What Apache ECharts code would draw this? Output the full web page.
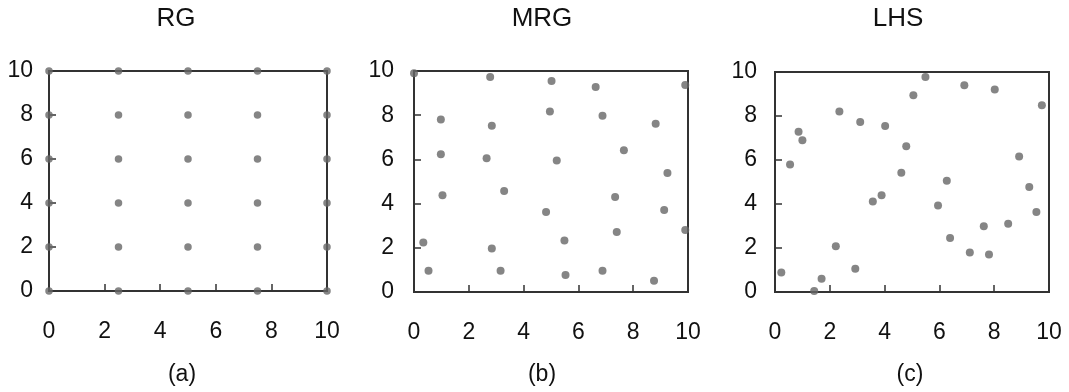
<!DOCTYPE html>
<html>
<head>
<meta charset="utf-8">
<script src="https://cdn.jsdelivr.net/npm/echarts@6/dist/echarts.min.js"></script>
<style>
html,body{margin:0;padding:0;background:#fff;}
#chart{width:1069px;height:392px;}
</style>
</head>
<body>
<div id="chart"></div>
<script>
const panelTitles = ['RG', 'MRG', 'LHS'];
const panelCaptions = ['(a)', '(b)', '(c)'];
const tickValues = [0, 2, 4, 6, 8, 10];

const rgX = [0, 2.5, 5, 7.5, 10];
const rgY = [0, 2, 4, 6, 8, 10];

const mrgX = [0, 2.78, 5.02, 6.63, 9.9, 0.98, 2.84, 4.96, 6.88, 8.82, 0.98, 2.65, 5.21, 7.66, 9.25,
              1.04, 3.29, 4.82, 7.34, 9.13, 9.9, 0.34, 2.84, 5.49, 7.4, 0.53, 3.16, 5.53, 6.88, 8.76];
const mrgY = [9.9, 9.73, 9.55, 9.28, 9.37, 7.8, 7.52, 8.17, 7.98, 7.61, 6.23, 6.05, 5.95, 6.41, 5.38,
              4.38, 4.57, 3.62, 4.3, 3.71, 2.8, 2.24, 1.97, 2.33, 2.71, 0.96, 0.96, 0.77, 0.96, 0.51];

const lhsX = [0.23, 0.55, 0.86, 1.0, 1.43, 1.7, 2.22, 2.35, 2.93, 3.11, 3.57, 3.89, 4.02, 4.61, 4.79,
              5.05, 5.49, 5.95, 6.27, 6.39, 6.91, 7.11, 7.62, 7.81, 8.02, 8.51, 8.91, 9.28, 9.54, 9.74];
const lhsY = [0.89, 5.8, 7.28, 6.9, 0.05, 0.6, 2.08, 8.2, 1.06, 7.73, 4.11, 4.4, 7.55, 5.42, 6.62,
              8.94, 9.77, 3.93, 5.06, 2.45, 9.4, 1.8, 2.99, 1.71, 9.21, 3.1, 6.16, 4.77, 3.64, 8.49];

const rgData = [];
rgX.forEach(x => rgY.forEach(y => rgData.push([x, y])));
const mrgData = mrgX.map((x, i) => [x, mrgY[i]]);
const lhsData = lhsX.map((x, i) => [x, lhsY[i]]);
const allData = [rgData, mrgData, lhsData];

const grids = [
  {left: 49, width: 278, top: 71, height: 220},
  {left: 414, width: 274, top: 71, height: 221},
  {left: 775, width: 274, top: 72, height: 220}
];
const yMargins = [16, 20, 18];
const titleX = [176, 542, 898];
const captionX = [182, 542, 910];

const FONT = 'Liberation Sans, Arial, sans-serif';

const chart = echarts.init(document.getElementById('chart'), null, {renderer: 'canvas'});

const option = {
  backgroundColor: '#fff',
  animation: false,
  title: panelTitles.map((t, i) => ({
    text: t, left: titleX[i], top: 6, textAlign: 'center', padding: 0,
    textStyle: {fontFamily: FONT, fontSize: 26, fontWeight: 'normal', color: '#111'}
  })).concat(panelCaptions.map((t, i) => ({
    text: t, left: captionX[i], top: 363, textAlign: 'center', padding: 0,
    textStyle: {fontFamily: FONT, fontSize: 23, fontWeight: 'normal', color: '#111'}
  }))),
  grid: grids.map(g => Object.assign({show: true, borderColor: '#333', borderWidth: 2, backgroundColor: 'transparent'}, g)),
  xAxis: grids.map((g, i) => ({
    type: 'value', gridIndex: i, min: 0, max: 10, interval: 2,
    axisLine: {show: false},
    axisTick: {show: true, inside: true, length: 7, lineStyle: {color: '#333', width: 1.5}},
    splitLine: {show: false},
    axisLabel: {
      margin: 29, fontFamily: FONT, fontSize: 23, color: '#111',
      formatter: v => tickValues.indexOf(v) >= 0 ? String(v) : ''
    }
  })),
  yAxis: grids.map((g, i) => ({
    type: 'value', gridIndex: i, min: 0, max: 10, interval: 2,
    axisLine: {show: false},
    axisTick: {show: true, inside: true, length: 7, lineStyle: {color: '#333', width: 1.5}},
    splitLine: {show: false},
    axisLabel: {
      margin: yMargins[i], fontFamily: FONT, fontSize: 23, color: '#111',
      formatter: v => tickValues.indexOf(v) >= 0 ? String(v) : ''
    }
  })),
  series: allData.map((d, i) => ({
    type: 'scatter', xAxisIndex: i, yAxisIndex: i, data: d,
    symbol: 'circle', symbolSize: i === 0 ? 7.5 : 8, clip: false,
    itemStyle: {color: '#676767'}, z: 5
  }))
};
chart.setOption(option);
</script>
</body>
</html>
